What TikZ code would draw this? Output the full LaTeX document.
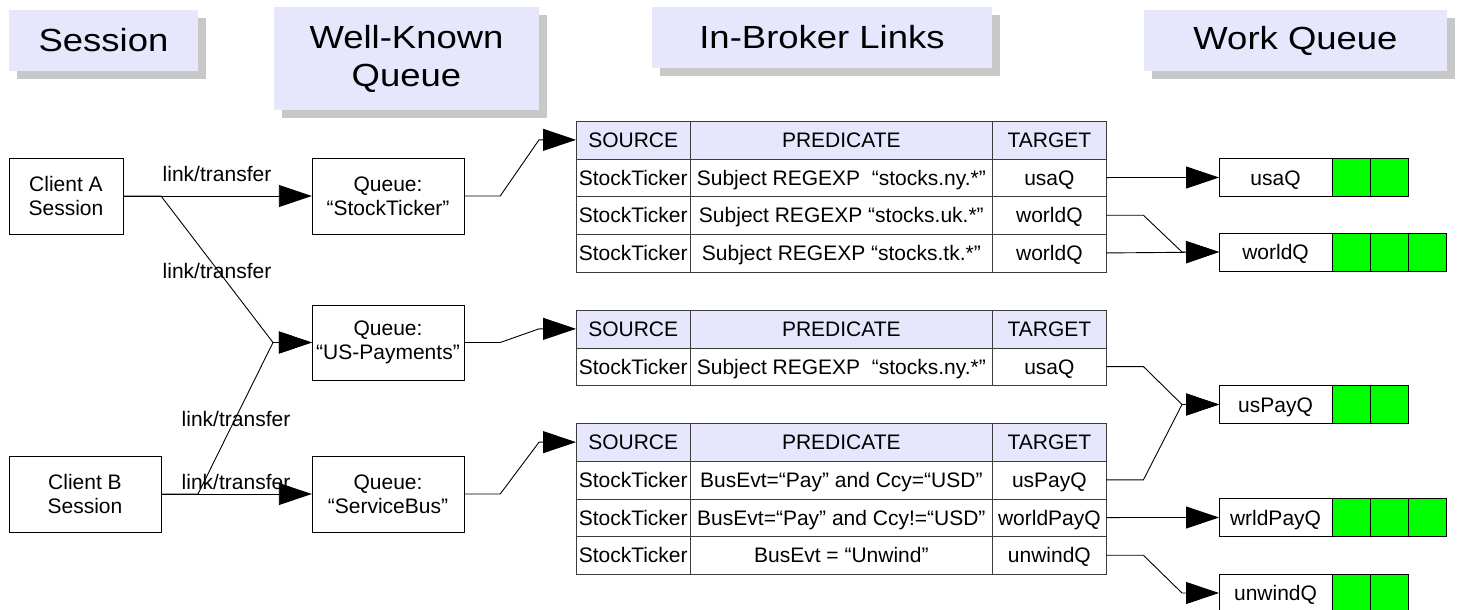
\documentclass[tikz,border=0pt]{standalone}
\usepackage{fontspec}
\setmainfont{Liberation Sans}
\usepackage{graphicx}
\usetikzlibrary{arrows.meta,positioning,shadows}

\definecolor{lav}{RGB}{230,230,252}
\definecolor{shdw}{RGB}{200,200,200}
\definecolor{qgreen}{RGB}{0,255,0}
\definecolor{rulegray}{RGB}{60,60,60}

\newcommand{\hfont}{\fontsize{32}{38}\selectfont}
\newcommand{\bfont}{\fontsize{21}{24}\selectfont}
\newcommand{\stretchx}[1]{\scalebox{1.14}[1]{#1}}

% one row of a link table: [extra] name, top, source, predicate, target
\newcommand{\linkrow}[6][]{%
  \node[cellbox,#1,anchor=north west,minimum width=114.4pt] (#2-s) at (576,#3) {#4};
  \node[cellbox,#1,minimum width=301.9pt,right=0pt of #2-s] (#2-p) {#5};
  \node[cellbox,#1,minimum width=114.1pt,right=0pt of #2-p] (#2-t) {#6};
}

\tikzset{
  hdrbox/.style={fill=lav, font=\hfont, align=center, inner sep=0pt,
    drop shadow={shadow xshift=8pt, shadow yshift=-8pt, fill=shdw, opacity=1}},
  procbox/.style={draw, font=\bfont, align=center, minimum height=76pt, inner sep=0pt},
  cellbox/.style={draw=rulegray, font=\bfont, minimum height=37.7pt, inner sep=1pt, outer sep=0pt,
    text height=15pt, text depth=0pt},
  wqbox/.style={draw, font=\bfont, minimum width=113pt, minimum height=38pt, inner sep=0pt, outer sep=0pt,
    text height=15pt, text depth=0pt},
  slot/.style={draw, fill=qgreen, minimum width=38pt, minimum height=38pt, inner sep=0pt, outer sep=0pt},
  lbl/.style={font=\bfont, inner sep=0pt, text height=15pt, text depth=0pt},
  link/.style={line width=0.9pt, -{Triangle[length=33pt,width=22pt]}},
}

\begin{document}
\begin{tikzpicture}[x=1pt, y=-1pt]
  \useasboundingbox (0,0) rectangle (1461,610);

  % column titles
  \node[hdrbox, minimum width=189pt, minimum height=61pt] (hSess) at (103.5,40.5) {\stretchx{Session}};
  \node[hdrbox, minimum width=265pt, minimum height=103pt] (hWkq) at (406.5,58.5) {\stretchx{Well-Known}\\\stretchx{Queue}};
  \node[hdrbox, minimum width=340pt, minimum height=61pt] (hLinks) at (822,37.5) {\stretchx{In-Broker Links}};
  \node[hdrbox, minimum width=303pt, minimum height=61pt] (hWork) at (1295.5,40.5) {\stretchx{Work Queue}};

  % sessions and queues
  \node[procbox, minimum width=114pt] (cliA) at (66,196) {Client A\\Session};
  \node[procbox, minimum width=152pt] (cliB) at (85,494) {Client B\\Session};
  \node[procbox, minimum width=152pt] (qST) at (388,196) {Queue:\\“StockTicker”};
  \node[procbox, minimum width=152pt, minimum height=75pt] (qUS) at (388,342.5) {Queue:\\“US-Payments”};
  \node[procbox, minimum width=152pt] (qSB) at (388,494) {Queue:\\“ServiceBus”};

  \coordinate (splitA) at (161,196);
  \coordinate (splitB) at (198,494);
  \coordinate (joinUS) at (273,342.5);

  \draw[link] (cliA.east) -- (qST.west);
  \draw[link] (cliA.east) -- (splitA) -- (joinUS) -- (qUS.west);
  \draw[link] (cliB.east) -- (splitB) -- (joinUS) -- (qUS.west);
  \draw[link] (cliB.east) -- (qSB.west);

  \node[lbl] (lt1) at (217,173.5) {link/transfer};
  \node[lbl] (lt2) at (217,270.5) {link/transfer};
  \node[lbl] (lt3) at (236,418.5) {link/transfer};
  \node[lbl] (lt4) at (236,481.5) {link/transfer};

  % link tables
  \linkrow[fill=lav]{t1h}{121}{SOURCE}{PREDICATE}{TARGET}
  \linkrow{t1r1}{158.7}{StockTicker}{Subject REGEXP\ \ “stocks.ny.*”}{usaQ}
  \linkrow{t1r2}{196.4}{StockTicker}{Subject REGEXP “stocks.uk.*”}{worldQ}
  \linkrow{t1r3}{234.1}{StockTicker}{Subject REGEXP “stocks.tk.*”}{worldQ}

  \linkrow[fill=lav]{t2h}{310}{SOURCE}{PREDICATE}{TARGET}
  \linkrow{t2r1}{347.7}{StockTicker}{Subject REGEXP\ \ “stocks.ny.*”}{usaQ}

  \linkrow[fill=lav]{t3h}{423.3}{SOURCE}{PREDICATE}{TARGET}
  \linkrow{t3r1}{461}{StockTicker}{BusEvt=“Pay” and Ccy=“USD”}{usPayQ}
  \linkrow{t3r2}{498.7}{StockTicker}{BusEvt=“Pay” and Ccy!=“USD”}{worldPayQ}
  \linkrow{t3r3}{536.4}{StockTicker}{BusEvt = “Unwind”}{unwindQ}

  \draw[link] (qST.east) -- ++(36,0) -- ([xshift=-37pt]t1h-s.west) -- (t1h-s.west);
  \draw[link] (qUS.east) -- ++(36,0) -- ([xshift=-37pt]t2h-s.west) -- (t2h-s.west);
  \draw[link] (qSB.east) -- ++(36,0) -- ([xshift=-37pt]t3h-s.west) -- (t3h-s.west);

  % work queues
  \node[wqbox] (usaQ) at (1275.5,177.5) {usaQ};
  \node[slot, right=0pt of usaQ] (usaQ1) {};
  \node[slot, right=0pt of usaQ1] (usaQ2) {};

  \node[wqbox] (worldQ) at (1275.5,252) {worldQ};
  \node[slot, right=0pt of worldQ] (worldQ1) {};
  \node[slot, right=0pt of worldQ1] (worldQ2) {};
  \node[slot, right=0pt of worldQ2] (worldQ3) {};

  \node[wqbox] (usPayQ) at (1275.5,404.5) {usPayQ};
  \node[slot, right=0pt of usPayQ] (usPayQ1) {};
  \node[slot, right=0pt of usPayQ1] (usPayQ2) {};

  \node[wqbox] (wrldPayQ) at (1275.5,517.5) {wrldPayQ};
  \node[slot, right=0pt of wrldPayQ] (wrldPayQ1) {};
  \node[slot, right=0pt of wrldPayQ1] (wrldPayQ2) {};
  \node[slot, right=0pt of wrldPayQ2] (wrldPayQ3) {};

  \node[wqbox] (unwindQ) at (1275.5,593) {unwindQ};
  \node[slot, right=0pt of unwindQ] (unwindQ1) {};
  \node[slot, right=0pt of unwindQ1] (unwindQ2) {};

  \draw[link] (t1r1-t.east) -- (usaQ.west);
  \draw[link] (t1r2-t.east) -- ++(37,0) -- ([xshift=-37pt]worldQ.west) -- (worldQ.west);
  \draw[link] (t1r3-t.east) -- (worldQ.west);
  \draw[link] (t2r1-t.east) -- ++(37,0) -- ([xshift=-37pt]usPayQ.west) -- (usPayQ.west);
  \draw[link] (t3r1-t.east) -- ++(37,0) -- ([xshift=-37pt]usPayQ.west) -- (usPayQ.west);
  \draw[link] (t3r2-t.east) -- (wrldPayQ.west);
  \draw[link] (t3r3-t.east) -- ++(37,0) -- ([xshift=-37pt]unwindQ.west) -- (unwindQ.west);
\end{tikzpicture}
\end{document}
